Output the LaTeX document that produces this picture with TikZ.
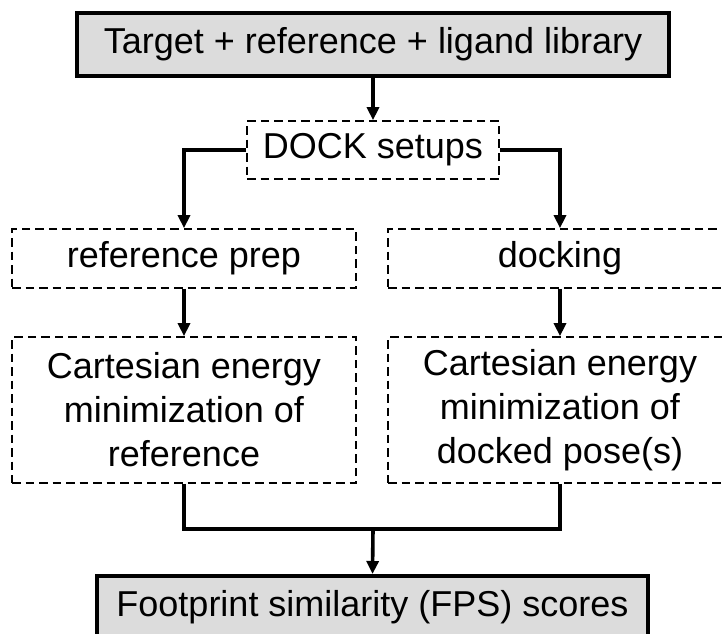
\documentclass[tikz,border=0pt]{standalone}
\usepackage{fontspec}
\setmainfont{Liberation Sans}
\usetikzlibrary{arrows.meta}
\definecolor{boxgray}{HTML}{DCDCDC}
\begin{document}
\begin{tikzpicture}[x=1pt,y=-1pt,
  every node/.style={font=\fontsize{36}{44}\selectfont, align=center, inner sep=0pt},
  mainbox/.style={draw, line width=4pt, fill=boxgray},
  dashbox/.style={draw, line width=1.7pt, dash pattern=on 8.5pt off 5pt},
  conn/.style={line width=3.6pt},
  arr/.style={conn, -{Triangle[length=13pt,width=12pt]}}]
\useasboundingbox (0,0) rectangle (722,633);
\clip (0,0) rectangle (722,633);
\node[mainbox, minimum width=592pt, minimum height=63pt] (top) at (373,44.5) {Target + reference + ligand library};
\node[dashbox, minimum width=252pt, minimum height=58pt] (dock) at (373,150) {DOCK setups};
\node[dashbox, minimum width=344pt, minimum height=59pt] (prep) at (184,258.5) {reference prep};
\node[dashbox, minimum width=344pt, minimum height=59pt] (docking) at (560,258.5) {docking};
\node[dashbox, minimum width=344pt, minimum height=146pt] (minL) at (184,410) {Cartesian energy\\minimization of\\reference};
\node[dashbox, minimum width=344pt, minimum height=146pt] (minR) at (560,410) {Cartesian energy\\minimization of\\docked pose(s)};
\node[mainbox, minimum width=551pt, minimum height=63pt] (fps) at (372.5,607.5) {Footprint similarity (FPS) scores};
\coordinate (merge) at (373,529);
\draw[arr] (top.south) -- (dock.north);
\draw[arr] (dock.west) -| (prep.north);
\draw[arr] (dock.east) -| (docking.north);
\draw[arr] (prep.south) -- (minL.north);
\draw[arr] (docking.south) -- (minR.north);
\draw[conn] (minL.south) |- (merge) -| (minR.south);
\draw[arr] (merge) -- (fps.north);
\end{tikzpicture}
\end{document}
